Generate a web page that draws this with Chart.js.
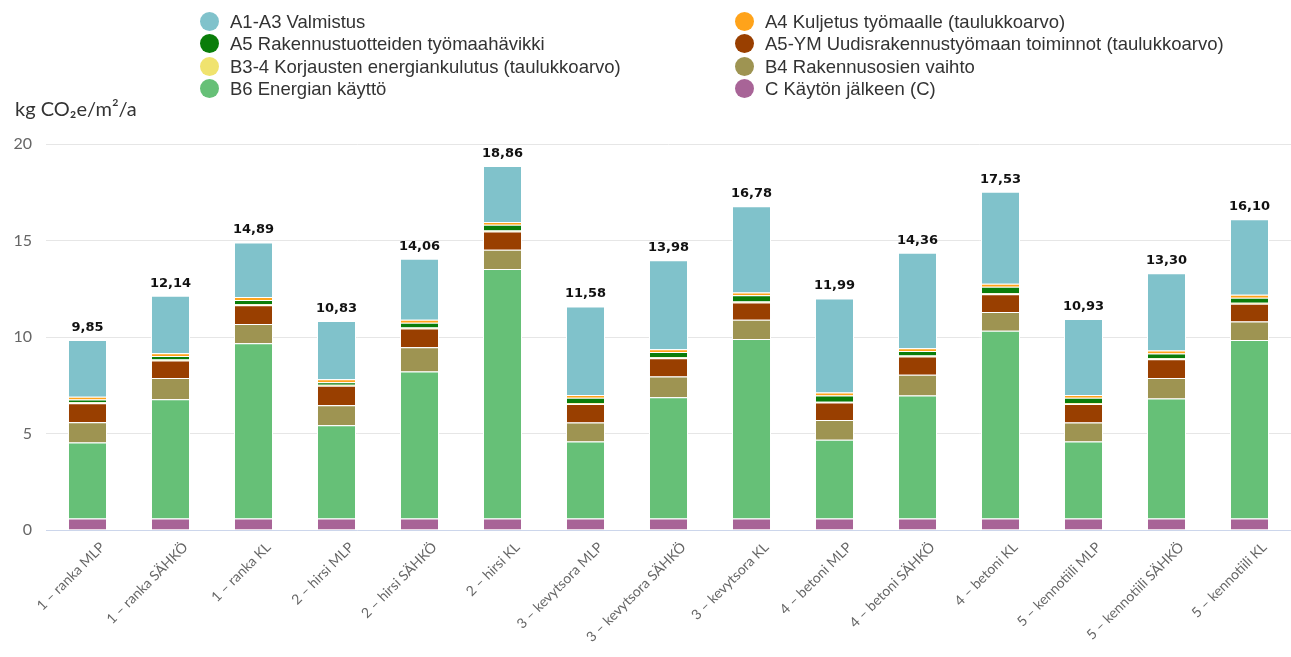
<!DOCTYPE html>
<html>
<head>
<meta charset="utf-8">
<script src="https://cdn.jsdelivr.net/npm/chart.js@4"></script>
<style>
    body { margin: 0; background: #fff; }
    #wrap { position: relative; width: 1291px; height: 657px; }
    #unit { position: absolute; left: 15px; top: 96px; font: 20px Lato, sans-serif; color: #333; }
    .legend-item { position: absolute; font: 18.5px "Liberation Sans", Arial, sans-serif; color: #333; white-space: nowrap; }
    .legend-item span { position: absolute; width: 19px; height: 19px; border-radius: 50%; left: -30px; top: 1px; }
</style>
</head>
<body>
<div id="wrap">
    <canvas id="chart" width="1291" height="657"></canvas>
    <div id="unit">kg CO₂e/m²/a</div>
    <div id="legend"></div>
</div>
<script>
// Categories
const labels = [
    "1 – ranka MLP", "1 – ranka SÄHKÖ", "1 – ranka KL",
    "2 – hirsi MLP", "2 – hirsi SÄHKÖ", "2 – hirsi KL",
    "3 – kevytsora MLP", "3 – kevytsora SÄHKÖ", "3 – kevytsora KL",
    "4 – betoni MLP", "4 – betoni SÄHKÖ", "4 – betoni KL",
    "5 – kennotiili MLP", "5 – kennotiili SÄHKÖ", "5 – kennotiili KL"
];

// Series values (kg CO2e/m2/a), bottom of stack first
const cAfter   = [0.60, 0.60, 0.60, 0.60, 0.60, 0.60, 0.60, 0.60, 0.60, 0.60, 0.60, 0.60, 0.60, 0.60, 0.60];
const b6Energy = [3.93, 6.18, 9.08, 4.83, 7.61, 12.92, 3.98, 6.28, 9.29, 4.07, 6.37, 9.72, 3.98, 6.21, 9.24];
const b4Parts  = [1.05, 1.09, 1.00, 1.04, 1.26, 1.00, 0.99, 1.07, 1.00, 1.03, 1.07, 0.97, 0.99, 1.06, 0.96];
const a5Site   = [0.99, 0.91, 0.97, 1.00, 0.97, 0.95, 0.96, 0.95, 0.90, 0.90, 0.95, 0.93, 0.96, 0.98, 0.92];
const b34Repair = [0.05, 0.05, 0.05, 0.05, 0.05, 0.05, 0.05, 0.05, 0.05, 0.05, 0.05, 0.05, 0.05, 0.05, 0.05];
const a5Waste  = [0.14, 0.18, 0.22, 0.14, 0.25, 0.29, 0.27, 0.27, 0.32, 0.32, 0.23, 0.34, 0.27, 0.25, 0.27];
const a4Transport = [0.15, 0.15, 0.15, 0.15, 0.15, 0.15, 0.15, 0.15, 0.15, 0.15, 0.15, 0.15, 0.15, 0.15, 0.15];
const a1a3Product = [2.94, 2.98, 2.82, 3.02, 3.17, 2.90, 4.58, 4.61, 4.47, 4.87, 4.94, 4.77, 3.93, 4.00, 3.91];

// Totals shown above the bars
const totals = [9.85, 12.14, 14.89, 10.83, 14.06, 18.86, 11.58, 13.98, 16.78, 11.99, 14.36, 17.53, 10.93, 13.30, 16.10];

// Y axis ticks
const yTicks = [0, 5, 10, 15, 20];

const series = [
    { label: "C Käytön jälkeen (C)", data: cAfter, color: "#a86497" },
    { label: "B6 Energian käyttö", data: b6Energy, color: "#66c077" },
    { label: "B4 Rakennusosien vaihto", data: b4Parts, color: "#9e9452" },
    { label: "A5-YM Uudisrakennustyömaan toiminnot (taulukkoarvo)", data: a5Site, color: "#993f00" },
    { label: "B3-4 Korjausten energiankulutus (taulukkoarvo)", data: b34Repair, color: "#f0e36e" },
    { label: "A5 Rakennustuotteiden työmaahävikki", data: a5Waste, color: "#0a7d0a" },
    { label: "A4 Kuljetus työmaalle (taulukkoarvo)", data: a4Transport, color: "#ffa31a" },
    { label: "A1-A3 Valmistus", data: a1a3Product, color: "#80c2cb" },
];

// Legend order (row by row, two columns)
const legendOrder = [
    "A1-A3 Valmistus",
    "A4 Kuljetus työmaalle (taulukkoarvo)",
    "A5 Rakennustuotteiden työmaahävikki",
    "A5-YM Uudisrakennustyömaan toiminnot (taulukkoarvo)",
    "B3-4 Korjausten energiankulutus (taulukkoarvo)",
    "B4 Rakennusosien vaihto",
    "B6 Energian käyttö",
    "C Käytön jälkeen (C)",
];

// Totals above the stacks
const totalLabels = {
    id: "totalLabels",
    afterDatasetsDraw(chart) {
        const ctx = chart.ctx;
        const top = chart.getDatasetMeta(chart.data.datasets.length - 1);
        ctx.save();
        ctx.font = "bold 13px 'DejaVu Sans', sans-serif";
        ctx.fillStyle = "#111";
        ctx.textAlign = "center";
        ctx.textBaseline = "bottom";
        top.data.forEach((bar, i) => {
            ctx.fillText(totals[i].toFixed(2).replace(".", ","), bar.x, bar.y - 6);
        });
        ctx.restore();
    }
};

const chart = new Chart(document.getElementById("chart"), {
    type: "bar",
    data: {
        labels,
        datasets: series.map(s => ({
            label: s.label,
            data: s.data,
            backgroundColor: s.color,
            borderColor: "#ffffff",
            borderWidth: 1,
            barPercentage: 0.94,
            categoryPercentage: 0.5,
        })),
    },
    options: {
        responsive: false,
        animation: false,
        layout: { padding: { top: 144, right: 0, left: 0, bottom: 0 } },
        plugins: {
            legend: { display: false },
            tooltip: { enabled: false },
        },
        scales: {
            x: {
                stacked: true,
                grid: { display: false, drawTicks: false },
                border: { color: "#ccd6eb" },
                ticks: {
                    color: "#666",
                    font: { family: "Lato", size: 14 },
                    minRotation: 45,
                    maxRotation: 45,
                    padding: 9,
                    labelOffset: 15,
                },
                afterFit: (scale) => { scale.height = 127; },
            },
            y: {
                stacked: true,
                min: 0,
                max: 20,
                afterBuildTicks: (scale) => { scale.ticks = yTicks.map(v => ({ value: v })); },
                grid: { color: "#e6e6e6", drawTicks: false },
                border: { display: false },
                ticks: {
                    color: "#666",
                    font: { family: "Lato", size: 16 },
                    padding: 14,
                },
                afterFit: (scale) => { scale.width = 46; },
            },
        },
    },
    plugins: [totalLabels],
});

// Legend in two columns
const legendEl = document.getElementById("legend");
legendOrder.forEach((name, i) => {
    const ds = chart.data.datasets.find(d => d.label === name);
    const item = document.createElement("div");
    item.className = "legend-item";
    item.style.left = (i % 2 === 0 ? 230 : 765) + "px";
    item.style.top = (11 + Math.floor(i / 2) * 22.3) + "px";
    item.innerHTML = `<span style="background:${ds.backgroundColor}"></span>${ds.label}`;
    legendEl.appendChild(item);
});
</script>
</body>
</html>
